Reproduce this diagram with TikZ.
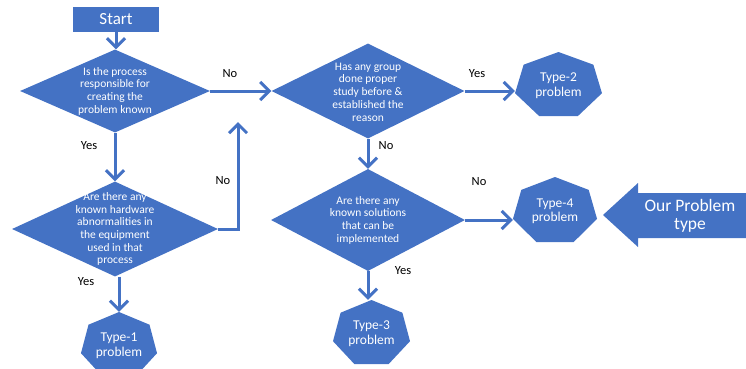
\documentclass[tikz,border=0pt]{standalone}
\usepackage{fontspec}
\setmainfont{Carlito}
\usetikzlibrary{shapes.geometric,arrows.meta,backgrounds,calc}
\definecolor{bl}{HTML}{4472C4}
\newcommand\heptfill[3]{\fill[bl] ([shift={(#1)}]90:#2 and #3) \foreach \k in {1,...,6}{ -- ([shift={(#1)}]{90+\k*51.428571}:#2 and #3)} -- cycle;}
\begin{document}
\begin{tikzpicture}[x=1pt,y=-1pt,
 dia/.style={diamond,fill=bl,inner sep=0pt,draw=none},
 dtext/.style={text=white,align=center,font=\fontsize{11.5}{12.7}\selectfont,inner sep=0pt},
 htext/.style={text=white,align=center,font=\fontsize{13.5}{14.8}\selectfont,inner sep=0pt},
 lab/.style={text=black,font=\fontsize{12.5}{14}\selectfont,inner sep=0pt},
 arr/.style={draw=bl,line width=3pt,-{Straight Barb[length=9pt,width=18pt]}}]
\useasboundingbox (0,0) rectangle (746,368);

% start
\node[fill=bl,minimum width=86pt,minimum height=25pt,inner sep=0pt,text=white,font=\fontsize{17}{18}\selectfont] (start) at (116,19.5) {Start};

% diamonds
\node[dia,minimum width=190pt,minimum height=83pt] (d1) at (115,91) {};
\node[dtext] (t1) at (d1.center) {Is the process\\responsible for\\creating the\\problem known};
\node[dia,minimum width=206pt,minimum height=95pt] (d3) at (115,229) {};
\node[dtext] (t3) at (d3.center) {Are there any\\known hardware\\abnormalities in\\the equipment\\used in that\\process};
\node[dia,minimum width=193pt,minimum height=95pt] (d2) at (368,91) {};
\node[dtext] (t2) at ([yshift=-1]d2.center) {Has any group\\done proper\\study before \&\\established the\\reason};
\node[dia,minimum width=194pt,minimum height=102pt] (d4) at (368,220) {};
\node[dtext] (t4) at (d4.center) {Are there any\\known solutions\\that can be\\implemented};

% heptagons
\node[htext,minimum width=87pt,minimum height=67.4pt] (h2) at (558.5,85.7) {Type-2\\problem};
\node[htext,minimum width=84pt,minimum height=68.4pt] (h4) at (555,211.2) {Type-4\\problem};
\node[htext,minimum width=77pt,minimum height=67.4pt] (h3) at (371.5,333.7) {Type-3\\problem};
\node[htext,minimum width=76pt,minimum height=67.4pt] (h1) at (119,345.7) {Type-1\\problem};
\begin{scope}[on background layer]
\heptfill{h2.center}{44.6pt}{33.7pt}
\heptfill{h4.center}{43.1pt}{34.2pt}
\heptfill{h3.center}{39.5pt}{33.7pt}
\heptfill{h1.center}{39pt}{33.7pt}
\end{scope}

% big arrow
\fill[bl] (603,215) -- (638,183) -- (638,193) -- (746,193) -- (746,238) -- (638,238) -- (638,247) -- cycle;
\node[text=white,align=center,font=\fontsize{17.5}{18}\selectfont,inner sep=0pt] (op) at (690,216) {Our Problem\\type};

% connectors
\coordinate (c1) at (238,122);
\draw[arr] (start.south) -- (start.south |- d1.north);
\draw[arr] (d1.east) -- (d2.west);
\draw[arr] (d1.south) -- (d3.north);
\draw[arr] (d3.east) -| (c1);
\draw[arr] (h1.north |- d3.south) -- (h1.north);
\draw[arr] (d2.east) -- (d2.east -| h2.west);
\draw[arr] (d2.south) -- (d4.north);
\draw[arr] (d4.east) -- (d4.east -| h4.west);
\draw[arr] (d4.south) -- (d4.south |- h3.north);

% labels
\node[lab] (l1) at (230,74) {No};
\node[lab] (l2) at (89,146) {Yes};
\node[lab] (l3) at (223,181) {No};
\node[lab] (l4) at (86,282) {Yes};
\node[lab] (l5) at (477,74) {Yes};
\node[lab] (l6) at (386,146) {No};
\node[lab] (l7) at (479,182) {No};
\node[lab] (l8) at (403,271) {Yes};
\end{tikzpicture}
\end{document}
